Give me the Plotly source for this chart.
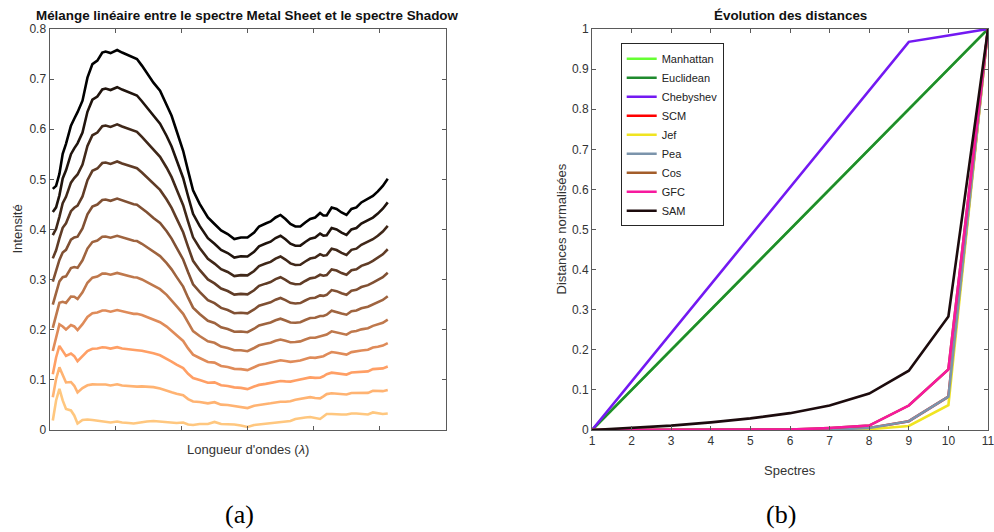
import plotly.graph_objects as go

W, H = 994, 532

# ---------------- Left chart data ----------------
BANDS = [2, 4, 6, 8, 10, 13, 15, 17, 20, 23, 26, 29, 32, 34, 37, 41, 44, 48, 51, 53,
         56, 59, 63, 67, 71, 74, 77, 81, 84, 87, 91, 96, 100, 104, 108, 112, 116, 120, 124, 127,
         131, 134, 137, 140, 143, 146, 149, 152, 155, 158, 161, 164, 166, 168, 171, 174, 177, 180, 183, 186,
         189, 193, 196, 199, 202, 205]

METAL_SHEET = [0.481, 0.487, 0.511, 0.551, 0.571,
               0.607, 0.621, 0.634, 0.657, 0.703,
               0.730, 0.737, 0.753, 0.755, 0.752,
               0.758, 0.753, 0.747, 0.742, 0.740,
               0.727, 0.713, 0.693, 0.677, 0.650,
               0.627, 0.597, 0.557, 0.517, 0.478,
               0.451, 0.424, 0.411, 0.398, 0.391,
               0.381, 0.384, 0.384, 0.394, 0.406,
               0.412, 0.416, 0.424, 0.429, 0.421,
               0.411, 0.406, 0.406, 0.414, 0.421,
               0.424, 0.433, 0.428, 0.428, 0.444,
               0.441, 0.434, 0.429, 0.441, 0.444,
               0.454, 0.461, 0.467, 0.476, 0.487,
               0.501]

SHADOW = [0.019, 0.059, 0.082, 0.059, 0.042,
          0.039, 0.029, 0.013, 0.020, 0.021,
          0.020, 0.019, 0.018, 0.017, 0.015,
          0.017, 0.015, 0.014, 0.013, 0.014,
          0.016, 0.017, 0.018, 0.017, 0.016,
          0.014, 0.014, 0.015, 0.011, 0.010,
          0.012, 0.012, 0.016, 0.012, 0.012,
          0.011, 0.009, 0.006, 0.010, 0.011,
          0.012, 0.013, 0.014, 0.015, 0.016,
          0.018, 0.022, 0.024, 0.025, 0.026,
          0.024, 0.022, 0.027, 0.032, 0.032,
          0.031, 0.031, 0.031, 0.033, 0.033,
          0.032, 0.031, 0.035, 0.033, 0.032,
          0.033]

MIX_FRACTIONS = [0.0, 0.1, 0.2, 0.3, 0.4, 0.5, 0.6, 0.7, 0.8, 0.9, 1.0]

LEFT_XTICKS = [0, 40, 80, 120, 160, 200, 240]

# ---------------- Right chart data ----------------
SPECTRES = [1, 2, 3, 4, 5, 6, 7, 8, 9, 10, 11]
MANHATTAN = [0, 0.1, 0.2, 0.3, 0.4, 0.5, 0.6, 0.7, 0.8, 0.9, 1.0]
EUCLIDEAN = [0, 0.1, 0.2, 0.3, 0.4, 0.5, 0.6, 0.7, 0.8, 0.9, 1.0]
CHEBYSHEV = [0, 0.121, 0.242, 0.363, 0.485, 0.606, 0.727, 0.848, 0.968, 0.984, 1.0]
SCM = [0, 0, 0, 0, 0, 0, 0.001, 0.005, 0.022, 0.083, 1.0]
JEF = [0, 0, 0, 0, 0, 0, 0, 0.002, 0.010, 0.062, 1.0]
PEA = [0, 0, 0, 0, 0, 0, 0.001, 0.005, 0.022, 0.083, 1.0]
COS = [0, 0, 0, 0, 0, 0.001, 0.005, 0.011, 0.061, 0.151, 1.0]
GFC = [0, 0, 0, 0, 0, 0.001, 0.005, 0.011, 0.061, 0.151, 1.0]
SAM = [0, 0.005, 0.011, 0.019, 0.029, 0.042, 0.061, 0.091, 0.148, 0.283, 1.0]

SERIES_NAMES = ["Manhattan", "Euclidean", "Chebyshev", "SCM", "Jef", "Pea", "Cos", "GFC", "SAM"]
SERIES_VALUES = [MANHATTAN, EUCLIDEAN, CHEBYSHEV, SCM, JEF, PEA, COS, GFC, SAM]
SERIES_COLORS = ["#66ff33", "#1f8a2e", "#7319f2", "#ff0000", "#f0e421",
                 "#7b94ab", "#a35d2a", "#f7199e", "#1c0b0d"]

FONT = "Liberation Sans, Arial, Helvetica, sans-serif"
AXCOL = "#5a5a5a"
TXTCOL = "#333333"


def copper(v):
    r = min(1.0, 1.25 * v)
    g = 0.7812 * v
    b = 0.4975 * v
    return "rgb(%d,%d,%d)" % (round(r * 255), round(g * 255), round(b * 255))


fig = go.Figure()

for f in MIX_FRACTIONS:
    ys = [f * m + (1 - f) * s for m, s in zip(METAL_SHEET, SHADOW)]
    fig.add_trace(go.Scatter(x=BANDS, y=ys, mode="lines",
                             line=dict(color=copper(1 - f), width=2.6),
                             showlegend=False, xaxis="x", yaxis="y",
                             hoverinfo="skip"))

for name, vals, col in zip(SERIES_NAMES, SERIES_VALUES, SERIES_COLORS):
    fig.add_trace(go.Scatter(x=SPECTRES, y=vals, mode="lines", name=name,
                             line=dict(color=col, width=2.6),
                             xaxis="x2", yaxis="y2"))

ytop = 1 - 29 / H
ybot = 1 - 430 / H

common_axis = dict(showline=True, linecolor=AXCOL, linewidth=1, mirror="ticks",
                   ticks="inside", ticklen=4, tickcolor=AXCOL, showgrid=False,
                   zeroline=False, automargin=False, ticklabeloverflow="allow",
                   tickfont=dict(family=FONT, size=12, color=TXTCOL))

fig.update_layout(
    width=W, height=H,
    margin=dict(l=0, r=0, t=0, b=0, pad=0, autoexpand=False),
    paper_bgcolor="white", plot_bgcolor="white",
    font=dict(family=FONT, size=12, color=TXTCOL),
    xaxis=dict(domain=[49.5 / W, 445.5 / W], range=[0, 240], tickvals=LEFT_XTICKS,
               showticklabels=False, anchor="y", **common_axis),
    yaxis=dict(domain=[ybot, ytop], range=[0, 0.8], dtick=0.1, anchor="x", **common_axis),
    xaxis2=dict(domain=[592 / W, 988 / W], range=[1, 11], dtick=1, anchor="y2", **common_axis),
    yaxis2=dict(domain=[ybot, ytop], range=[0, 1], dtick=0.1, anchor="x2", **common_axis),
    legend=dict(x=620.7 / W, y=1 - 43.3 / H, xanchor="left", yanchor="top",
                bordercolor="#262626", borderwidth=1, bgcolor="white",
                font=dict(family=FONT, size=11, color="#222222"),
                tracegroupgap=0),
    showlegend=True,
)

ann = []
def add_text(text, xpx, ypx, size, bold=False, rot=0, family=FONT, color="#111111"):
    ann.append(dict(text=("<b>%s</b>" % text) if bold else text,
                    x=xpx / W, y=1 - ypx / H, xref="paper", yref="paper",
                    xanchor="center", yanchor="middle", showarrow=False,
                    textangle=rot, font=dict(family=family, size=size, color=color)))

add_text("Mélange linéaire entre le spectre Metal Sheet et le spectre Shadow", 247.5, 15, 13.4, bold=True)
add_text("Évolution des distances", 790, 15, 13.4, bold=True)
add_text("Intensité", 17, 229.5, 13, rot=-90, color=TXTCOL)
add_text("Distances normalisées", 561, 229.5, 13, rot=-90, color=TXTCOL)
add_text("Longueur d'ondes (<i>λ</i>)", 248, 449, 13, color=TXTCOL)
add_text("Spectres", 790, 470, 13, color=TXTCOL)
add_text("(a)", 239, 514, 26, family="Liberation Serif, DejaVu Serif, serif", color="#000000")
add_text("(b)", 781, 514, 26, family="Liberation Serif, DejaVu Serif, serif", color="#000000")
fig.update_layout(annotations=ann)

fig.write_html("out.html",
               config={"responsive": False, "displayModeBar": False},
               post_script="document.body.style.margin='0';document.body.style.overflow='hidden';")
